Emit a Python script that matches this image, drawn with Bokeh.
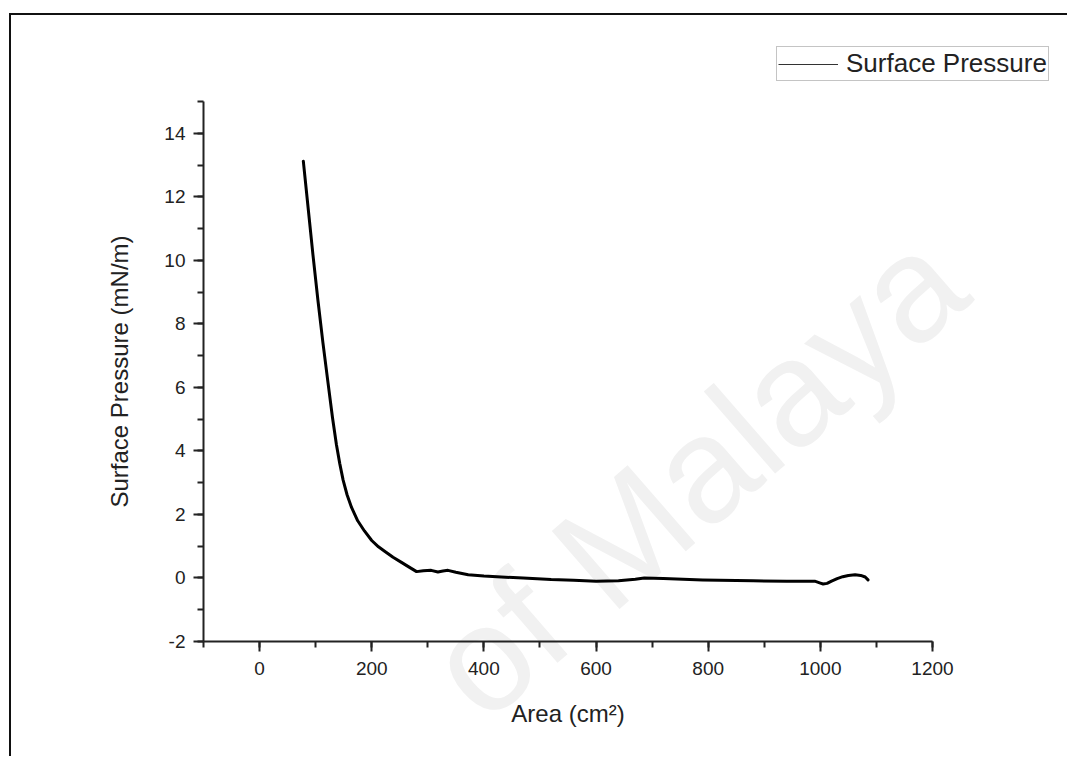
import math
from bokeh.plotting import figure
from bokeh.models import (Range1d, SingleIntervalTicker, Legend, LegendItem,
                          ColumnDataSource, Label, PrintfTickFormatter)
from bokeh.embed import file_html
from bokeh.resources import INLINE

# ---- data ----
area = [78, 86, 95, 104, 113, 122, 130, 137, 143, 149, 156, 164, 175, 187,
        200, 212, 223, 238, 253, 266, 280, 292, 306, 318, 327, 336, 350, 372,
        400, 431, 470, 520, 560, 600, 640, 670, 686, 720, 790, 880, 940, 990,
        1000, 1005, 1012, 1020, 1030, 1040, 1050, 1062, 1072, 1080, 1085]
pressure = [13.12, 11.75, 10.2, 8.75, 7.4, 6.15, 5.05, 4.2, 3.6, 3.08, 2.62,
            2.22, 1.8, 1.48, 1.18, 0.98, 0.84, 0.65, 0.49, 0.35, 0.2, 0.23,
            0.24, 0.19, 0.22, 0.24, 0.18, 0.1, 0.06, 0.03, 0.0, -0.05, -0.07,
            -0.1, -0.09, -0.04, 0.0, -0.02, -0.06, -0.09, -0.1, -0.1, -0.16,
            -0.19, -0.17, -0.1, -0.02, 0.04, 0.08, 0.1, 0.08, 0.03, -0.06]
series_name = "Surface Pressure"
x_label = "Area (cm\u00b2)"
y_label = "Surface Pressure (mN/m)"
watermark = "of Malaya"

FONT = "Liberation Sans"

# ---- main plot (transparent, so the watermark layer behind shows) ----
p = figure(width=1058, height=743, output_backend="svg", toolbar_location=None,
           x_range=Range1d(-100, 1200), y_range=Range1d(-2, 15),
           min_border_left=192, min_border_right=137,
           min_border_top=86, min_border_bottom=117,
           margin=(13, 0, 0, 9),
           styles={"border-top": "2px solid #111", "border-left": "2px solid #111"})
p.outline_line_color = None
p.xgrid.visible = False
p.ygrid.visible = False
p.background_fill_alpha = 0
p.border_fill_alpha = 0

src = ColumnDataSource(dict(x=area, y=pressure))
p.line("x", "y", source=src, line_color="black", line_width=3,
       line_join="round", line_cap="round")

# axes
p.xaxis.ticker = SingleIntervalTicker(interval=200, num_minor_ticks=2)
p.yaxis.ticker = SingleIntervalTicker(interval=2, num_minor_ticks=2)
p.yaxis.formatter = PrintfTickFormatter(format="%d")
p.xaxis.formatter = PrintfTickFormatter(format="%d")
for ax in (p.xaxis[0], p.yaxis[0]):
    ax.axis_line_color = "#222222"
    ax.axis_line_width = 2
    ax.major_tick_line_color = "#222222"
    ax.major_tick_line_width = 2
    ax.minor_tick_line_color = "#222222"
    ax.minor_tick_line_width = 2
    ax.major_tick_in = 0
    ax.major_tick_out = 10
    ax.minor_tick_in = 0
    ax.minor_tick_out = 6
    ax.major_label_text_font = FONT
    ax.major_label_text_font_size = "19px"
    ax.major_label_text_color = "#222222"
    ax.axis_label_text_font = FONT
    ax.axis_label_text_font_size = "24px"
    ax.axis_label_text_font_style = "normal"
    ax.axis_label_text_color = "#222222"
p.xaxis.axis_label = x_label
p.yaxis.axis_label = y_label
p.xaxis.major_label_standoff = 10
p.yaxis.major_label_standoff = 8
p.xaxis.axis_label_standoff = 22
p.yaxis.axis_label_standoff = 28

# ---- faint watermark layer, behind the plot ----
W, H = 1060, 758
wmf = figure(width=W, height=H, output_backend="svg", toolbar_location=None,
             x_axis_location=None, y_axis_location=None, title=None,
             min_border_left=0, min_border_right=0, min_border_top=0,
             min_border_bottom=0, x_range=Range1d(0, W), y_range=Range1d(0, H),
             styles={"position": "absolute", "left": "0px", "top": "0px",
                     "z-index": "-1"})
wmf.outline_line_color = None
wmf.xgrid.visible = False
wmf.ygrid.visible = False
wmf.background_fill_alpha = 0
wmf.border_fill_alpha = 0
wmf.add_layout(Label(x=505, y=8, text=watermark, angle=math.radians(41),
                     text_font=FONT, text_font_size="150px",
                     text_color="#f1f1f1"))

# ---- legend: separate root figure overlaid above the plot's top-right ----
lg = figure(width=292, height=40, output_backend="svg", toolbar_location=None,
            x_axis_location=None, y_axis_location=None, title=None,
            min_border_left=0, min_border_right=0, min_border_top=0,
            min_border_bottom=0, x_range=Range1d(0, 1), y_range=Range1d(0, 1),
            styles={"position": "absolute", "left": "775px", "top": "45px"})
lg.outline_line_color = None
lg.xgrid.visible = False
lg.ygrid.visible = False
lg.background_fill_alpha = 0
lg.border_fill_alpha = 0
# sample renderer (its data lie outside the view; only its legend glyph shows)
sample = lg.line(x=[5, 6], y=[5, 6], line_color="#333333", line_width=1)
legend = Legend(items=[LegendItem(label=series_name, renderers=[sample])],
                location="top_left")
legend.label_text_font = FONT
legend.label_text_font_size = "26px"
legend.label_text_color = "#222222"
legend.glyph_width = 60
legend.glyph_height = 20
legend.label_height = 20
legend.label_standoff = 8
legend.padding = 1
legend.margin = 1
legend.spacing = 0
legend.border_line_color = "#8a8a8a"
legend.border_line_width = 1.5
legend.background_fill_color = "white"
legend.background_fill_alpha = 1
lg.add_layout(legend, "center")

open("out.html", "w").write(file_html([p, wmf, lg], INLINE))
